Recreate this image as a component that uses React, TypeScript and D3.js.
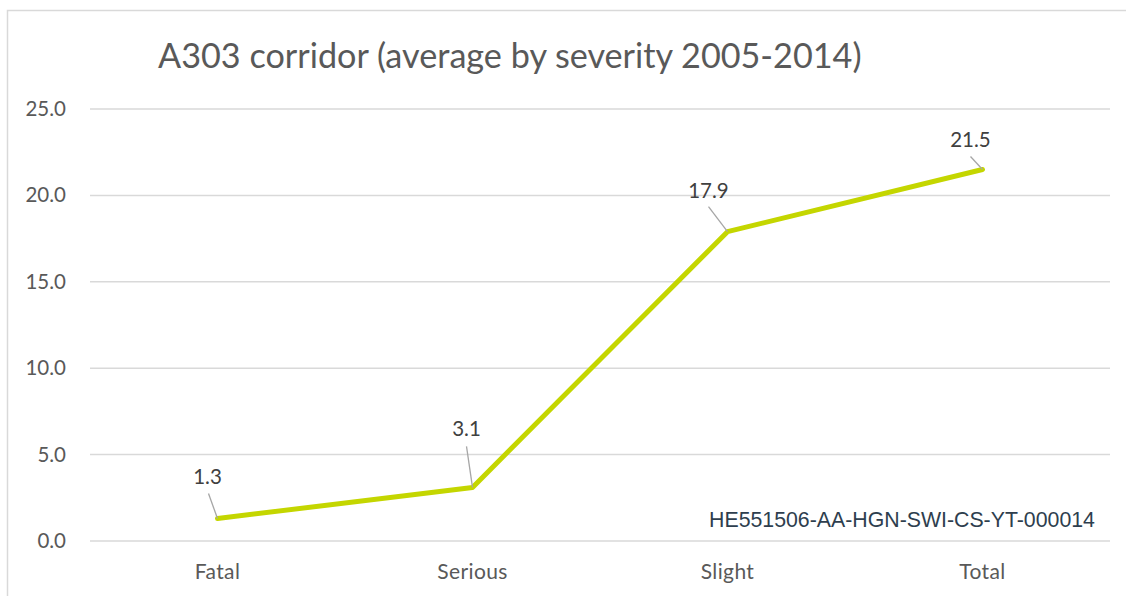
import React from "react";
import * as d3 from "d3";

const categories = ["Fatal", "Serious", "Slight", "Total"];
const values = [1.3, 3.1, 17.9, 21.5];
const yTicks = [0, 5, 10, 15, 20, 25];
const titleText = "A303 corridor (average by severity 2005-2014)";
const refText = "HE551506-AA-HGN-SWI-CS-YT-000014";
// label layout offsets relative to the point: [labelDx, labelDy(baseline), leaderDx, leaderDy]
const labelOffsets = [
  [-10, -35, -9, -25],
  [-6, -51, -6, -41],
  [-19, -34, -19, -25],
  [-12, -22, -12, -13],
];

export default function App() {
  const W = 1126, H = 596;
  const left = 90, right = 1110, top = 109, bottom = 541;
  const x = d3.scaleBand<string>().domain(categories).range([left, right]);
  const y = d3.scaleLinear().domain([0, 25]).range([bottom, top]);
  const cx = (c: string) => (x(c) as number) + x.bandwidth() / 2;
  const line = d3
    .line<number>()
    .x((_, i) => cx(categories[i]))
    .y((v) => y(v));
  const font = "Lato, 'Open Sans', sans-serif";
  return (
    <svg
      width={W}
      height={H}
      style={{ position: "absolute", left: 0, top: 0, background: "#fff" }}
    >
      <rect x={7.5} y={10.5} width={1130} height={700} fill="#fff" stroke="#d9d9d9" strokeWidth={1.5} />
      <text x={158} y={68} fontFamily={font} fontSize={34.2} fill="#595959">
        {titleText}
      </text>
      {yTicks.map((t) => (
        <g key={t}>
          <line x1={left} x2={right} y1={y(t)} y2={y(t)} stroke="#d9d9d9" strokeWidth={1.5} />
          <text x={66} y={y(t) + 7} textAnchor="end" fontFamily={font} fontSize={20.5} fill="#595959">
            {t.toFixed(1)}
          </text>
        </g>
      ))}
      {categories.map((c) => (
        <text key={c} x={cx(c)} y={579} textAnchor="middle" fontFamily={font} fontSize={21} letterSpacing={0.4} fill="#595959">
          {c}
        </text>
      ))}
      <path d={line(values) || ""} fill="none" stroke="#c4d600" strokeWidth={5} strokeLinejoin="round" strokeLinecap="round" />
      {values.map((v, i) => {
        const px = cx(categories[i]);
        const py = y(v);
        const [ldx, ldy, kdx, kdy] = labelOffsets[i];
        return (
          <g key={i}>
            <line x1={px + kdx} y1={py + kdy} x2={px} y2={py} stroke="#a6a6a6" strokeWidth={1.3} />
            <text x={px + ldx} y={py + ldy} textAnchor="middle" fontFamily={font} fontSize={20.5} fill="#404040">
              {v.toFixed(1)}
            </text>
          </g>
        );
      })}
      <text x={902} y={527} textAnchor="middle" fontFamily="'Liberation Sans', Arial, sans-serif" fontSize={21.3} fill="#2e3e4e">
        {refText}
      </text>
    </svg>
  );
}
